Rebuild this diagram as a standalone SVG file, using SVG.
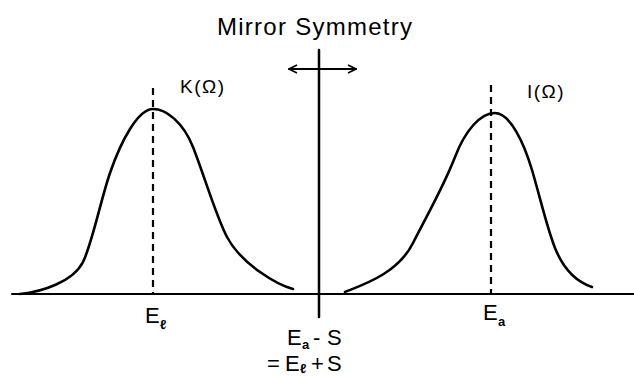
<svg xmlns="http://www.w3.org/2000/svg" width="634" height="377" viewBox="0 0 634 377">
<style>
.ln{stroke:#000;fill:none;stroke-linecap:round;stroke-linejoin:round}
.curve{stroke-width:2.6}
.axis{stroke-width:2}
.dash{stroke-width:2.2;stroke-dasharray:7 5;stroke-linecap:butt}
.t{font-family:"Liberation Sans",Arial,sans-serif;fill:#000}
.lab{font-size:22px}
.sub{font-size:13px;font-weight:bold}
.fn{font-size:19px}
</style>
<defs>
<marker id="ah" viewBox="0 0 10 10" refX="9" refY="5" markerWidth="10" markerHeight="10" markerUnits="userSpaceOnUse" orient="auto-start-reverse">
<path d="M1,1 L9,5 L1,9" fill="none" stroke="#000" stroke-width="1.6"/>
</marker>
</defs>
<rect width="634" height="377" fill="#fff"/>
<g id="title"><text class="t" x="217" y="35" font-size="24" textLength="195" lengthAdjust="spacing">Mirror Symmetry</text></g>
<g id="axes">
<line class="ln axis" x1="12" y1="294" x2="634" y2="294"/>
<line class="ln" stroke-width="2.5" x1="319" y1="50" x2="319" y2="317"/>
</g>
<g id="connectors">
<line class="ln" stroke-width="1.8" x1="289" y1="69" x2="356" y2="69" marker-start="url(#ah)" marker-end="url(#ah)"/>
</g>
<g id="K-curve">
<path class="ln curve" d="M20,294 C41,292 73,282 83,262 C92,244 101,199 110,173 C121,141 138,109 153,109 C166,109 183,122 193,147 C204,175 216,216 227,237 C242,265 278,285 293,289"/>
<line class="ln dash" x1="153" y1="88" x2="153" y2="294"/>
<text class="t fn" x="180" y="93" letter-spacing="1.5">K(Ω)</text>
</g>
<g id="I-curve">
<path class="ln curve" d="M345,292 C365,284 398,273 413,243 C427,215 443,188 455,157 C465,131 480,113 495,113 C510,113 524,143 532,170 C540,197 547,228 555,248 C565,273 580,283 592,287"/>
<line class="ln dash" x1="491" y1="85" x2="491" y2="294"/>
<text class="t fn" x="527" y="98" letter-spacing="1.5">I(Ω)</text>
</g>
<g id="label-El">
<text class="t lab" x="145" y="323">E</text>
<text class="t sub" x="160" y="329">ℓ</text>
</g>
<g id="label-Ea">
<text class="t lab" x="483" y="320">E</text>
<text class="t sub" x="498" y="326">a</text>
</g>
<g id="label-center">
<text class="t lab" x="287" y="345">E</text>
<text class="t sub" x="302" y="349">a</text>
<text class="t lab" x="313" y="345">-</text>
<text class="t lab" x="327" y="345">S</text>
<text class="t lab" x="267" y="371">=</text>
<text class="t lab" x="285" y="371">E</text>
<text class="t sub" x="300" y="373">ℓ</text>
<text class="t lab" x="311" y="371">+</text>
<text class="t lab" x="327" y="371">S</text>
</g>
</svg>
